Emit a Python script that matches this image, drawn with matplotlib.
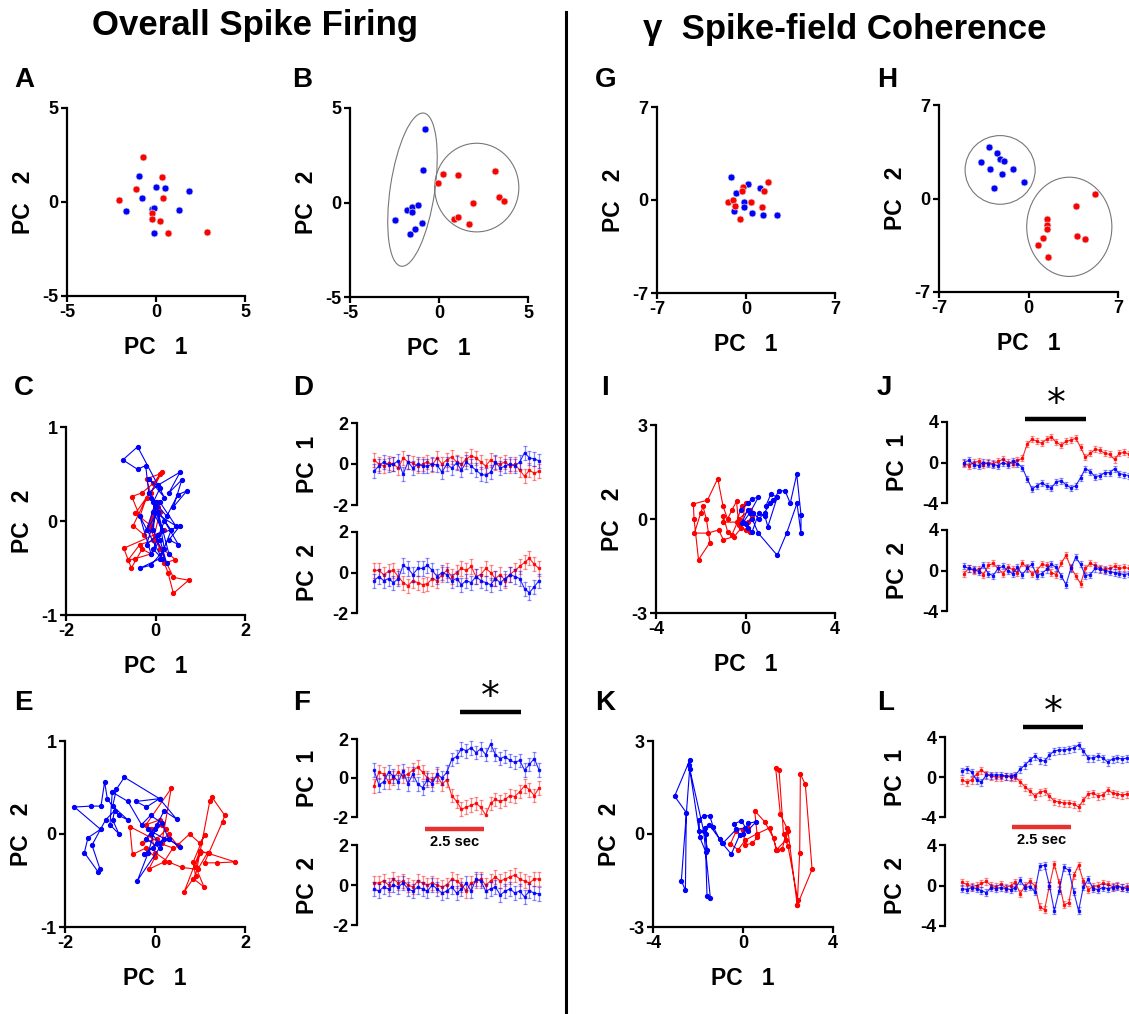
import matplotlib
matplotlib.use("Agg")
import matplotlib.pyplot as plt
import matplotlib.transforms as mtransforms
from matplotlib.lines import Line2D
from matplotlib.patches import Ellipse

plt.rcParams["font.family"] = ["Liberation Sans", "DejaVu Sans"]
plt.rcParams["font.weight"] = "bold"

W, H = 1129, 1014
ROJO = "#ff0000"
AZUL = "#0000ff"

# ---------------- datos: nubes de puntos ----------------
a_rojo_x = [-0.71, 0.32, -1.12, 0.41, -2.07, -0.24, -0.24, 0.24, 0.69, 2.84]
a_rojo_y = [2.41, 1.32, 0.71, 0.20, 0.11, -0.59, -0.93, -1.02, -1.63, -1.61]
a_azul_x = [-0.94, 0.0, 0.49, 1.85, -0.79, -1.70, -0.20, -0.11, 1.30, -0.11]
a_azul_y = [1.39, 0.82, 0.75, 0.61, 0.23, -0.48, -0.39, -0.34, -0.43, -1.64]

b_azul_x = [-0.79, -0.89, -1.82, -1.49, -1.49, -1.17, -2.48, -0.96, -1.34, -1.62]
b_azul_y = [3.90, 1.71, -0.38, -0.22, -0.49, -0.15, -0.91, -1.07, -1.41, -1.67]
b_rojo_x = [0.25, -0.05, 1.09, 3.17, 1.90, 3.36, 3.67, 0.87, 1.06, 1.71]
b_rojo_y = [1.51, 1.05, 1.48, 1.65, -0.04, 0.27, 0.08, -0.86, -0.79, -1.14]

g_azul_x = [-1.16, 0.12, 1.11, -0.82, -0.14, -0.14, -0.95, 0.46, 1.37, 2.47]
g_azul_y = [1.75, 1.18, 0.88, 0.50, -0.13, -0.53, -0.80, -1.00, -1.15, -1.15]
g_rojo_x = [1.74, 1.40, -0.25, -0.35, -1.43, -1.03, -0.90, 0.43, 1.27, -0.46]
g_rojo_y = [1.35, 0.70, 0.98, 0.68, -0.13, -0.03, -0.43, -0.13, -0.55, -1.40]

h_azul_x = [-3.11, -2.48, -2.19, -1.91, -3.73, -2.98, -1.23, -2.06, -0.39, -2.72]
h_azul_y = [3.84, 3.42, 2.99, 2.79, 2.72, 2.24, 2.24, 1.82, 1.25, 0.80]
h_rojo_x = [5.17, 3.73, 1.44, 1.44, 1.41, 1.17, 0.78, 1.49, 3.76, 4.44]
h_rojo_y = [0.37, -0.55, -1.50, -2.02, -2.32, -2.97, -3.49, -4.39, -2.82, -3.02]

# ---------------- datos: trayectorias PC1 vs PC2 ----------------
c_azul_x = [-0.05, 0.1, -0.15, 0.2, -0.4, -0.73, -0.4, -0.22, -0.15, 0.05, 0.55, 0.3, 0.59,
            0.4, 0.7, 0.5, 0.25, -0.1, 0.15, -0.05, 0.45, 0.1, -0.2, 0.05, 0.55, 0.3, 0.51,
            0.2, -0.05, 0.15, -0.35, -0.1, 0.1, 0.25, -0.05, 0.0, 0.35, 0.1, -0.34, -0.1,
            0.2, 0.05, -0.2, 0.0, 0.3]
c_azul_y = [0.2, 0.35, 0.45, 0.25, 0.79, 0.65, 0.55, 0.59, 0.3, 0.38, 0.52, 0.3, 0.44,
            0.15, 0.32, 0.28, 0.05, 0.25, -0.1, 0.1, -0.05, 0.2, -0.25, -0.15, -0.05, -0.2,
            -0.25, 0.0, -0.3, -0.4, 0.05, -0.35, -0.2, -0.45, -0.1, 0.15, -0.1, -0.4, -0.5,
            -0.47, -0.3, 0.1, -0.1, 0.2, -0.35]
c_rojo_x = [0.0, -0.2, 0.1, -0.1, 0.14, -0.05, -0.3, -0.53, -0.35, -0.2, -0.45, -0.1, 0.05,
            -0.25, -0.5, -0.15, 0.1, -0.05, 0.2, -0.71, -0.54, -0.3, -0.1, -0.45, -0.62,
            -0.35, 0.0, 0.15, 0.3, 0.44, 0.2, 0.28, 0.4, 0.74, 0.4, 0.1, -0.1, 0.05, -0.15, 0.0]
c_rojo_y = [0.1, 0.45, 0.5, 0.3, 0.52, 0.4, 0.3, 0.26, 0.05, 0.25, 0.08, -0.05, 0.2, -0.15,
            -0.05, 0.3, 0.1, -0.2, -0.1, -0.29, -0.5, -0.3, -0.35, -0.4, -0.42, -0.25, -0.2,
            -0.3, -0.35, -0.41, -0.45, -0.55, -0.77, -0.63, -0.6, -0.3, -0.1, 0.15, -0.05, 0.2]

e_azul_x = [-0.1, 0.05, -0.2, 0.1, -0.39, -0.15, 0.0, 0.2, 0.48, 0.1, -0.19, -0.42, 0.1,
            -0.68, -0.86, -0.94, -0.6, -0.8, -1.06, -1.12, -1.2, -1.42, -1.79, -1.21, -1.49,
            -1.57, -1.26, -1.22, -1.4, -1.1, -0.9, -0.94, -0.8, -1.0, -0.95, -0.6, -0.3, -0.1,
            0.15, 0.3, 0.55, 0.3, 0.05, -0.25, -0.05, 0.2, -0.15, 0.1]
e_azul_y = [0.0, 0.1, -0.05, -0.15, -0.5, -0.2, 0.05, 0.25, 0.16, 0.38, 0.29, 0.35, 0.38,
            0.61, 0.48, 0.3, 0.15, 0.2, 0.38, 0.56, 0.3, 0.3, 0.29, 0.05, -0.04, -0.2, -0.41,
            -0.38, -0.12, 0.15, 0.25, 0.15, 0.0, 0.1, 0.45, 0.35, 0.1, 0.2, 0.12, -0.05, -0.14,
            -0.05, -0.1, -0.22, -0.15, -0.05, 0.05, -0.1]
e_rojo_x = [-0.1, 0.1, -0.2, 0.36, 0.15, -0.56, -0.5, -0.2, 0.0, -0.14, 0.2, 0.4, 0.1, 0.3,
            0.5, 0.77, 1.0, 1.1, 0.85, 0.9, 1.22, 1.26, 1.55, 1.5, 1.2, 1.1, 1.37, 1.78, 1.0,
            0.65, 0.85, 1.09, 0.9, 1.0, 1.17, 0.95, 0.6, 0.3, 0.0, -0.1, 0.15, -0.3, 0.05, 0.25]
e_rojo_y = [0.0, 0.15, 0.1, 0.49, -0.1, 0.08, -0.22, -0.15, -0.25, -0.38, -0.3, -0.15, -0.1,
            0.0, -0.12, 0.0, -0.1, -0.01, -0.3, -0.45, 0.36, 0.4, 0.2, 0.13, -0.2, -0.31, -0.31,
            -0.3, -0.18, -0.62, -0.48, -0.57, -0.35, -0.2, -0.2, -0.38, -0.36, -0.3, -0.2, 0.05,
            0.1, -0.1, -0.05, 0.05]

i_rojo_x = [0.2, 0.0, -0.3, -0.4, -0.6, -0.8, -1.0, -1.24, -1.7, -2.33, -2.3, -2.1, -1.59,
            -1.75, -1.9, -2.0, -2.28, -1.68, -1.2, -0.99, -0.5, -0.2, 0.0, -0.17, -0.4, -0.99,
            -1.0, -0.8, -0.6, -0.3, 0.2, 0.3, 0.1]
i_rojo_y = [-0.4, -0.35, -0.2, 0.56, 0.3, 0.0, 0.4, 1.29, 0.6, 0.48, 0.0, -1.3, -0.75, 0.0,
            0.4, 0.2, -0.45, -0.45, -0.35, -0.66, -0.56, -0.3, 0.5, 0.4, -0.1, -0.1, 0.1, -0.4,
            -0.5, 0.0, 0.3, 0.1, -0.1]
i_azul_x = [-0.2, 0.1, 0.3, 0.57, 0.2, -0.1, 0.1, 0.3, 0.6, 0.87, 1.0, 1.42, 1.13, 0.9, 1.25,
            1.5, 1.77, 2.0, 2.29, 2.48, 2.48, 2.3, 1.84, 1.42, 0.57, 0.3, 0.0, -0.17, 0.1, 0.35,
            0.6, 0.85, 1.1]
i_azul_y = [0.3, 0.5, 0.65, 0.69, 0.2, -0.1, -0.3, -0.4, 0.2, 0.08, -0.24, 0.7, 0.79, 0.4,
            0.6, 0.9, 0.9, 0.5, 1.43, 0.13, -0.45, 0.5, -0.45, -1.16, -0.45, 0.0, -0.15, -0.13,
            0.3, 0.2, 0.0, 0.2, 0.5]

k_azul_x = [0.0, 0.22, 0.59, 0.2, -0.07, -0.41, -0.15, -0.52, -0.92, -1.04, -1.33, -1.48,
            -1.75, -1.95, -1.93, -1.66, -1.6, -1.45, -1.75, -2.41, -2.37, -3.04, -2.52, -2.56,
            -2.74, -2.37, -1.95, -1.66, -1.6, -1.7, -1.5, -0.9, -0.3, 0.1]
k_azul_y = [0.0, 0.34, 0.4, 0.1, 0.43, 0.32, -0.03, -0.65, -0.3, -0.17, 0.24, 0.59, 0.59,
            0.45, -0.09, -0.57, -1.99, -2.07, 0.1, 2.24, 2.38, 1.22, 0.69, -1.82, -1.5, 2.1,
            0.1, 0.0, -0.5, 0.2, 0.3, -0.3, 0.15, 0.2]
k_rojo_x = [0.0, 0.1, 0.41, 0.64, 0.52, 0.96, 1.36, 1.48, 1.75, 1.96, 1.66, 1.45, 1.6, 1.8,
            2.0, 2.44, 2.41, 2.52, 2.55, 2.77, 3.07, 2.41, 2.0, 1.9, 1.5, 1.2, 0.6, 0.1, -0.22,
            -0.56, -0.3, 0.2]
k_rojo_y = [0.13, -0.35, -0.3, -0.11, 0.75, 0.4, -0.14, -0.51, -0.48, 0.18, 0.64, 2.14, 2.08,
            0.0, -0.39, -2.14, -2.3, -0.6, 1.93, 1.6, -1.14, -2.3, 0.1, -0.2, -0.5, 0.2, 0.0,
            -0.2, -0.51, -0.32, 0.1, 0.2]

# ---------------- datos: series temporales (35 bins) ----------------
d1_rojo = [0.2, 0.0, -0.1, 0.05, 0.0, -0.2, 0.3, 0.1, 0.05, -0.1, 0.0, 0.1, -0.05, 0.3, 0.0,
           0.2, 0.35, 0.1, 0.0, 0.25, 0.4, 0.3, 0.1, -0.1, 0.2, 0.05, 0.0, 0.1, -0.1, 0.0,
           -0.3, -0.6, -0.3, -0.45, -0.35]
d1_azul = [-0.35, -0.1, 0.1, -0.05, 0.0, 0.15, -0.5, 0.1, -0.2, 0.0, -0.1, -0.1, 0.0, -0.05,
           -0.4, 0.0, -0.2, 0.05, -0.3, 0.1, -0.1, -0.3, -0.5, -0.55, -0.4, 0.1, -0.2, -0.1,
           0.0, -0.1, 0.1, 0.55, 0.3, 0.25, 0.15]
d2_rojo = [0.1, 0.1, -0.1, 0.05, 0.1, -0.2, -0.5, -0.65, -0.4, -0.5, -0.6, -0.55, -0.3, -0.4,
           -0.1, 0.1, -0.2, 0.0, 0.2, 0.1, 0.3, -0.2, -0.1, 0.2, 0.0, -0.3, -0.1, -0.4, -0.1,
           0.1, 0.3, 0.5, 0.7, 0.4, 0.2]
d2_azul = [-0.4, -0.2, -0.4, -0.3, -0.5, -0.3, 0.35, 0.2, -0.1, 0.2, 0.2, 0.35, 0.1, -0.2,
           0.0, -0.1, -0.4, -0.3, -0.6, -0.4, -0.5, -0.2, -0.4, -0.5, -0.6, -0.3, -0.5, -0.3,
           -0.1, -0.2, -0.3, -0.8, -1.0, -0.7, -0.4]

f1_rojo = [-0.4, 0.3, 0.2, -0.2, 0.0, 0.3, 0.1, 0.2, 0.4, 0.55, 0.3, 0.0, -0.1, 0.1, -0.3,
           -0.1, -0.9, -1.2, -1.6, -1.5, -1.4, -1.3, -1.5, -1.9, -1.3, -1.1, -1.2, -1.1, -0.9,
           -0.95, -0.7, -0.4, -0.6, -0.9, -0.5]
f1_azul = [0.4, -0.35, -0.2, 0.3, 0.1, -0.2, 0.35, -0.3, 0.2, -0.3, -0.5, -0.1, -0.3, 0.2,
           0.0, 0.3, 0.95, 1.1, 1.5, 1.4, 1.55, 1.3, 1.5, 1.2, 1.75, 1.2, 1.0, 1.1, 0.9, 0.8,
           0.9, 0.4, 0.7, 1.0, 0.4]
f2_rojo = [0.1, 0.1, 0.2, 0.0, 0.3, 0.1, 0.2, 0.0, -0.1, 0.2, 0.1, 0.0, 0.1, 0.0, -0.1, 0.0,
           0.3, 0.2, 0.0, -0.3, 0.1, 0.2, 0.3, 0.0, 0.2, 0.4, 0.2, 0.3, 0.4, 0.5, 0.3, 0.2,
           0.1, 0.3, 0.3]
f2_azul = [-0.2, -0.3, -0.1, -0.2, 0.0, -0.1, 0.1, -0.2, -0.3, -0.1, -0.2, -0.3, 0.0, -0.2,
           -0.4, -0.3, -0.1, -0.4, -0.2, 0.1, -0.3, 0.3, 0.2, -0.3, -0.2, -0.1, -0.5, -0.3,
           -0.2, -0.4, -0.3, -0.6, -0.3, -0.4, -0.45]

j1_rojo = [-0.1, -0.3, 0.0, 0.1, -0.2, 0.0, -0.1, 0.1, 0.3, 0.0, -0.1, 0.2, 0.4, 1.8, 2.3,
           2.1, 1.9, 2.3, 2.5, 2.0, 1.7, 2.1, 2.2, 2.4, 1.5, 0.5, 0.9, 1.3, 1.2, 0.9, 0.8, 0.3,
           0.9, 1.0, 0.8]
j1_azul = [0.0, 0.2, -0.2, -0.3, 0.0, -0.1, -0.2, -0.3, 0.0, -0.2, 0.1, -0.1, -0.5, -1.6,
           -2.6, -2.3, -2.0, -2.3, -2.5, -1.9, -1.8, -2.2, -2.5, -2.3, -1.5, -0.6, -0.9, -1.4,
           -1.3, -1.0, -1.0, -0.6, -1.1, -1.2, -1.3]
j2_rojo = [-0.3, 0.2, 0.0, 0.1, -0.4, 0.5, 0.7, 0.2, -0.3, 0.3, 0.1, -0.2, 0.7, 0.3, -0.3,
           0.0, 0.6, 0.5, -0.2, -0.4, 0.7, 1.5, 0.3, -0.5, -1.3, 0.2, 0.7, 0.5, 0.2, 0.1, 0.2,
           0.4, 0.2, 0.3, 0.2]
j2_azul = [0.4, 0.2, 0.1, -0.1, 0.5, -0.3, -0.5, 0.2, 0.4, 0.0, -0.3, 0.3, -0.4, 0.2, 0.6,
           -0.5, -0.3, 0.1, 0.6, 0.3, -0.5, -1.4, 0.2, 1.3, 0.6, -0.5, -0.4, 0.2, 0.1, 0.0,
           -0.1, -0.2, -0.3, -0.4, -0.3]

l1_azul = [0.6, 0.8, 0.5, -0.3, -0.5, 0.2, 0.2, 0.2, 0.2, 0.1, 0.1, 0.2, 0.8, 1.2, 1.7, 2.1,
           1.7, 1.6, 2.2, 2.6, 2.7, 2.7, 2.8, 2.9, 3.2, 2.6, 1.9, 1.9, 2.1, 1.9, 1.5, 1.8, 1.9,
           1.8, 1.9]
l1_rojo = [-0.3, -0.5, -0.3, 0.3, 0.7, 0.3, 0.1, 0.0, 0.0, 0.1, 0.0, 0.0, -0.5, -1.0, -1.4,
           -1.9, -1.5, -1.4, -1.9, -2.4, -2.5, -2.6, -2.6, -2.7, -3.0, -2.3, -1.7, -1.6, -1.9,
           -1.8, -1.3, -1.6, -1.7, -1.8, -1.7]
l2_azul = [-0.3, -0.4, -0.2, -0.3, -0.5, -0.7, -0.2, -0.3, -0.2, -0.3, -0.4, -0.2, 0.5, -0.2,
           -0.1, -0.6, 1.9, 2.0, 0.0, -2.5, -0.5, 1.8, 1.5, -0.6, -2.5, -0.1, 0.6, -0.3, -0.4,
           -0.2, -0.3, -0.2, -0.1, -0.2, -0.3]
l2_rojo = [0.3, 0.1, -0.1, 0.0, 0.2, 0.4, 0.0, -0.1, 0.1, -0.2, 0.0, 0.3, -0.8, 0.0, 0.4,
           0.0, -2.1, -2.4, 0.0, 2.1, 0.3, -1.9, -1.7, 1.0, 2.0, 0.4, -0.4, -0.1, 0.0, 0.2, 0.1,
           -0.1, 0.0, -0.2, -0.1]

# errores (SEM) por panel
err_d = 0.35
err_f = 0.35
err_j = 0.3
err_l = 0.35

# ventanas de significancia y barra de escala (en bins)
ventana_f = (17.7, 30.3)
ventana_j = (12.6, 25.2)
ventana_l = (12.6, 25.0)
escala_f = (10.5, 22.7)
escala_l = (10.3, 22.5)


def ejes_px(fig, x0, y0, x1, y1):
    """Crea ejes a partir de coordenadas en pixeles (origen arriba-izquierda)."""
    return fig.add_axes([x0 / W, 1 - y1 / H, (x1 - x0) / W, (y1 - y0) / H])


def estilo_ejes(ax, xlim, ylim, xticks, yticks, con_x=True):
    ax.set_xlim(*xlim)
    ax.set_ylim(*ylim)
    for lado in ["top", "right"]:
        ax.spines[lado].set_visible(False)
    ax.spines["left"].set_linewidth(1.6)
    ax.spines["bottom"].set_linewidth(1.6)
    ax.set_yticks(yticks)
    ax.set_yticklabels([str(t) for t in yticks])
    if con_x:
        ax.set_xticks(xticks)
        ax.set_xticklabels([str(t) for t in xticks])
    else:
        ax.spines["bottom"].set_visible(False)
        ax.set_xticks([])
    ax.tick_params(direction="out", length=4, width=1.6, labelsize=13, pad=2)
    ax.patch.set_visible(False)


def etiquetas(ax, xlabel, ylabel, dx_px, dy_px, ancho_px, alto_px):
    if xlabel:
        ax.set_xlabel(xlabel, fontsize=16.5, fontweight="bold")
        ax.xaxis.set_label_coords(0.5, -dy_px / alto_px)
    ax.set_ylabel(ylabel, fontsize=16.5, fontweight="bold")
    ax.yaxis.set_label_coords(-dx_px / ancho_px, 0.5)


def panel_dispersion(fig, caja, lim, ticks, rojo, azul):
    x0, y0, x1, y1 = caja
    ax = ejes_px(fig, x0, y0, x1, y1)
    estilo_ejes(ax, (-lim, lim), (-lim, lim), ticks, ticks)
    for (xs, ys), c in [(azul, AZUL), (rojo, ROJO)]:
        ax.plot(xs, ys, "o", color=c, ms=5, mec="#d8d8d8", mew=0.5, clip_on=False)
    etiquetas(ax, "PC   1", "PC   2", 32, 40, x1 - x0, y1 - y0)
    return ax


def panel_trayectoria(fig, caja, xlim, ylim, xticks, yticks, rojo, azul):
    x0, y0, x1, y1 = caja
    ax = ejes_px(fig, x0, y0, x1, y1)
    estilo_ejes(ax, xlim, ylim, xticks, yticks)
    for (xs, ys), c in [(rojo, ROJO), (azul, AZUL)]:
        ax.plot(xs, ys, "-o", color=c, lw=0.8, ms=2.8, clip_on=False)
    etiquetas(ax, "PC   1", "PC   2", 32, 40, x1 - x0, y1 - y0)
    return ax


def serie(ax, valores, err, color):
    xs = list(range(len(valores)))
    ax.errorbar(xs, valores, yerr=err, fmt="none", ecolor=color, alpha=0.45,
                elinewidth=0.9, capsize=1.6, capthick=0.9)
    ax.plot(xs, valores, "-s", color=color, lw=0.8, ms=2, alpha=0.85)


def panel_series(fig, x_eje, y_caja1, y_caja2, lim, ticks, pc1, pc2, err):
    ancho = 187
    ejes = []
    for (ya, yb), datos, nombre in [(y_caja1, pc1, "PC  1"), (y_caja2, pc2, "PC  2")]:
        ax = ejes_px(fig, x_eje, ya, x_eje + ancho, yb)
        estilo_ejes(ax, (-3.5, 35), (-lim, lim), None, ticks, con_x=False)
        for valores, c in zip(datos, [ROJO, AZUL]):
            serie(ax, valores, err, c)
        etiquetas(ax, None, nombre, 38, 0, ancho, yb - ya)
        ejes.append(ax)
    return ejes


def barra_significancia(ax, ventana, dy_px, alto_px):
    tr = mtransforms.blended_transform_factory(ax.transData, ax.transAxes)
    y = 1 + dy_px / alto_px
    ax.plot(ventana, [y, y], color="black", lw=3.2, transform=tr, clip_on=False,
            solid_capstyle="butt")
    ax.text(sum(ventana) / 2, y - 4 / alto_px, "*", transform=tr, ha="center",
            va="bottom", fontsize=27, fontweight="normal", family="DejaVu Sans")


def barra_escala(ax, ventana, dy_px, alto_px):
    tr = mtransforms.blended_transform_factory(ax.transData, ax.transAxes)
    y = -dy_px / alto_px
    ax.plot(ventana, [y, y], color="#e8322f", lw=3.2, transform=tr, clip_on=False,
            solid_capstyle="butt")
    ax.text(sum(ventana) / 2, y - 6 / alto_px, "2.5 sec", transform=tr, ha="center",
            va="top", fontsize=10.5, fontweight="bold")


fig = plt.figure(figsize=(W / 100, H / 100), dpi=100)

# ---- fila superior ----
panel_dispersion(fig, (67, 108, 245, 296), 5, [-5, 0, 5],
                 (a_rojo_x, a_rojo_y), (a_azul_x, a_azul_y))
ax_b = panel_dispersion(fig, (350, 108, 528, 297), 5, [-5, 0, 5],
                        (b_rojo_x, b_rojo_y), (b_azul_x, b_azul_y))
ax_b.add_patch(Ellipse((-1.49, 0.68), 2.5, 8.2, angle=-9, fill=False, ec="#777777", lw=0.8,
                       clip_on=False))
ax_b.add_patch(Ellipse((2.12, 0.79), 4.73, 4.69, fill=False, ec="#777777", lw=0.8,
                       clip_on=False))
panel_dispersion(fig, (657, 107, 835, 293), 7, [-7, 0, 7],
                 (g_rojo_x, g_rojo_y), (g_azul_x, g_azul_y))
ax_h = panel_dispersion(fig, (939, 105, 1118, 292), 7, [-7, 0, 7],
                        (h_rojo_x, h_rojo_y), (h_azul_x, h_azul_y))
ax_h.add_patch(Ellipse((-2.22, 2.14), 5.48, 5.14, fill=False, ec="#777777", lw=0.8,
                       clip_on=False))
ax_h.add_patch(Ellipse((3.19, -2.12), 6.66, 7.43, fill=False, ec="#777777", lw=0.8,
                       clip_on=False))

# ---- trayectorias ----
panel_trayectoria(fig, (66, 427, 245, 615), (-2, 2), (-1, 1), [-2, 0, 2], [-1, 0, 1],
                  (c_rojo_x, c_rojo_y), (c_azul_x, c_azul_y))
panel_trayectoria(fig, (65, 741, 245, 927), (-2, 2), (-1, 1), [-2, 0, 2], [-1, 0, 1],
                  (e_rojo_x, e_rojo_y), (e_azul_x, e_azul_y))
panel_trayectoria(fig, (656, 425, 835, 613), (-4, 4), (-3, 3), [-4, 0, 4], [-3, 0, 3],
                  (i_rojo_x, i_rojo_y), (i_azul_x, i_azul_y))
panel_trayectoria(fig, (653, 741, 833, 927), (-4, 4), (-3, 3), [-4, 0, 4], [-3, 0, 3],
                  (k_rojo_x, k_rojo_y), (k_azul_x, k_azul_y))

# ---- series temporales ----
panel_series(fig, 357, (423, 505), (532, 613), 2, [-2, 0, 2],
             (d1_rojo, d1_azul), (d2_rojo, d2_azul), err_d)
f_ejes = panel_series(fig, 357, (739, 817), (845, 925), 2, [-2, 0, 2],
                      (f1_rojo, f1_azul), (f2_rojo, f2_azul), err_f)
j_ejes = panel_series(fig, 947, (422, 503), (530, 611), 4, [-4, 0, 4],
                      (j1_rojo, j1_azul), (j2_rojo, j2_azul), err_j)
l_ejes = panel_series(fig, 945, (737, 817), (845, 926), 4, [-4, 0, 4],
                      (l1_rojo, l1_azul), (l2_rojo, l2_azul), err_l)

barra_significancia(f_ejes[0], ventana_f, 27, 78)
barra_significancia(j_ejes[0], ventana_j, 3, 81)
barra_significancia(l_ejes[0], ventana_l, 10, 80)
barra_escala(f_ejes[0], escala_f, 12, 78)
barra_escala(l_ejes[0], escala_l, 10, 80)

# ---- letras de panel ----
letras = [("A", 14, 67), ("B", 292, 67), ("G", 595, 67), ("H", 877, 67),
          ("C", 14, 375), ("D", 293, 375), ("I", 601, 375), ("J", 877, 375),
          ("E", 14, 690), ("F", 293, 690), ("K", 595, 690), ("L", 877, 690)]
for letra, x, y in letras:
    fig.text(x / W, 1 - y / H, letra, ha="left", va="top", fontsize=20, fontweight="bold")

# ---- titulos y separador ----
fig.text(255 / W, 1 - 26 / H, "Overall Spike Firing", ha="center", va="center",
         fontsize=25, fontweight="bold")
fig.text(845 / W, 1 - 30 / H, "γ  Spike-field Coherence", ha="center", va="center",
         fontsize=25, fontweight="bold")
fig.add_artist(Line2D([566 / W, 566 / W], [1 - 12 / H, 0], color="black", lw=2.2))

fig.savefig("out.png", dpi=100)
